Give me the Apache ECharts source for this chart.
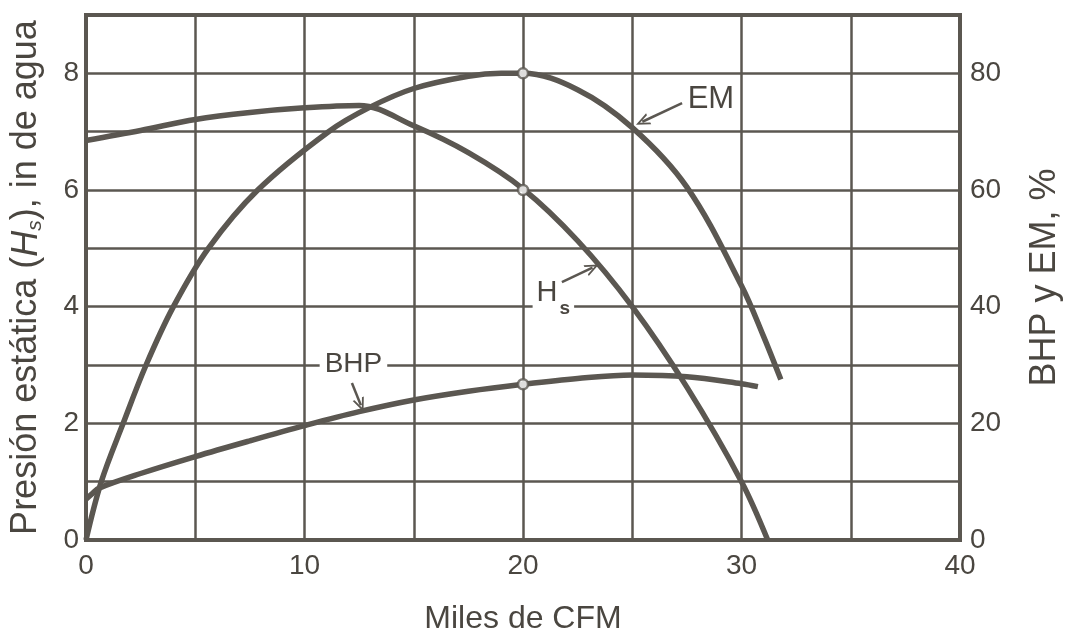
<!DOCTYPE html>
<html><head><meta charset="utf-8">
<script src="https://cdn.jsdelivr.net/npm/echarts@6/dist/echarts.min.js"></script>
<style>html,body{margin:0;padding:0;background:#fff}#c{width:1067px;height:633px}</style>
</head><body><div id="c"></div>
<script>
// ---- data ----
const emX  = [0,0.7,1.7,2.75,4,5.6,7.86,11.1,13,15,17.5,19,20,22.5,25,27.5,30,31,31.8];
const emY  = [0,10,20,30,40,50,60,70,74.2,77.4,79.5,80,80,77.2,70.7,60.5,43.6,35,27.5];
const hsX  = [0,2.5,5,7.5,10,12.5,15,17.5,20,22.5,25,27.5,30,31.2];
const hsY  = [6.85,7.02,7.21,7.33,7.41,7.45,7.1,6.64,6.02,5.13,4.0,2.62,1.0,0];
const bhpX = [0,0.3,0.6,2.5,5,7.5,10,12.5,15,17.5,20,22.5,25,27.5,30,30.75];
const bhpY = [7.0,8.0,8.9,11.4,14.3,17.0,19.6,22.0,24.0,25.5,26.7,27.7,28.3,28.0,26.8,26.3];
const markX = 20, markEM = 80, markHs = 6.0, markBHP = 26.7;
const xTickLabels = [0,10,20,30,40];
const leftTickLabels = [0,2,4,6,8];
const rightTickLabels = [0,20,40,60,80];

// ---- annotation anchors (data units) ----
const annot = {
  em:  {text:[28.6, 75.5],  from:[27.28, 74.9], to:[25.46, 71.7]},
  hs:  {text:[21.39, 4.235], from:[21.78, 4.42], to:[23.18, 4.67]},
  bhp: {text:[12.24, 30.1],  from:[12.17, 26.9], to:[12.58, 23.1]}
};

const INK = '#5b5751';
const TXT = '#4a4640';
const FONT = '"Liberation Sans", Arial, Helvetica, sans-serif';
const chevron = 'path://M0,14 L6,0 L12,14 L10,14 L6,4.5 L2,14 Z';
const zip = (xs, ys) => xs.map((x, i) => [x, ys[i]]);

function arrow(a){
  return {
    silent: true, z: 10, symbol: ['none', chevron], symbolSize: [12, 14],
    lineStyle: {color: INK, width: 2.5, type: 'solid'},
    label: {show: false}, emphasis: {disabled: true},
    data: [[{coord: a.from}, {coord: a.to}]]
  };
}
function textMark(a, label){
  return {
    silent: true, z: 6, symbol: 'circle', symbolSize: 1,
    itemStyle: {color: 'rgba(0,0,0,0)'},
    label: Object.assign({show: true, position: 'inside', color: TXT, fontFamily: FONT,
      backgroundColor: '#fff'}, label),
    data: [{coord: a.text}]
  };
}

const chart = echarts.init(document.getElementById('c'), null, {renderer: 'canvas'});
chart.setOption({
  animation: false,
  backgroundColor: '#fff',
  textStyle: {fontFamily: FONT},
  grid: {left: 86, right: 107, top: 15, bottom: 93, show: true, borderColor: INK, borderWidth: 4,
         containLabel: false, outerBoundsMode: 'none'},
  xAxis: {
    type: 'value', min: 0, max: 40, interval: 5,
    name: 'Miles de CFM', nameLocation: 'middle', nameGap: 63,
    nameTextStyle: {fontSize: 32, color: TXT, fontFamily: FONT},
    axisLine: {show: false}, axisTick: {show: false},
    axisLabel: {fontSize: 28, color: TXT, margin: 12, fontFamily: FONT, showMinLabel: true, showMaxLabel: true,
      formatter: v => xTickLabels.includes(v) ? String(v) : ''},
    splitLine: {show: true, lineStyle: {color: INK, width: 2.5}}
  },
  yAxis: [{
    type: 'value', min: 0, max: 9, interval: 1, position: 'left',
    name: 'Presión estática ({i|H}{sub|s}), in de agua', nameLocation: 'middle', nameGap: 40,
    nameTextStyle: {fontSize: 36, color: TXT, fontFamily: FONT,
      rich: {i: {fontSize: 36, fontStyle: 'italic', color: TXT, fontFamily: FONT},
             sub: {fontSize: 21, fontStyle: 'italic', color: TXT, fontFamily: FONT, padding: [18, 0, 0, 0]}}},
    axisLine: {show: false}, axisTick: {show: false},
    axisLabel: {fontSize: 28, color: TXT, margin: 7, fontFamily: FONT,
      formatter: v => leftTickLabels.includes(v) ? String(v) : ''},
    splitLine: {show: true, lineStyle: {color: INK, width: 2.5}}
  }, {
    type: 'value', min: 0, max: 90, interval: 10, position: 'right',
    name: 'BHP y EM, %', nameLocation: 'middle', nameGap: 67,
    nameTextStyle: {fontSize: 36, color: TXT, fontFamily: FONT},
    axisLine: {show: false}, axisTick: {show: false},
    axisLabel: {fontSize: 28, color: TXT, margin: 10, fontFamily: FONT,
      formatter: v => rightTickLabels.includes(v) ? String(v) : ''},
    splitLine: {show: false}
  }],
  series: [
    {name: 'EM', type: 'line', yAxisIndex: 1, data: zip(emX, emY), smooth: 0.35,
     showSymbol: false, lineStyle: {color: INK, width: 5.5}, z: 3,
     markLine: arrow(annot.em),
     markPoint: textMark(annot.em, {formatter: 'EM', fontSize: 31, padding: [0, 2]})},
    {name: 'Hs', type: 'line', yAxisIndex: 0, data: zip(hsX, hsY), smooth: 0.35,
     showSymbol: false, lineStyle: {color: INK, width: 5.5}, z: 3,
     markLine: arrow(annot.hs),
     markPoint: textMark(annot.hs, {formatter: '{h|H}{s|s}', padding: [0, 4],
       rich: {h: {fontSize: 29, color: TXT, fontFamily: FONT},
              s: {fontSize: 19, fontWeight: 'bold', color: TXT, fontFamily: FONT, padding: [32, 0, 0, 2]}}})},
    {name: 'BHP', type: 'line', yAxisIndex: 1, data: zip(bhpX, bhpY), smooth: 0.35,
     showSymbol: false, lineStyle: {color: INK, width: 5.5}, z: 3,
     markLine: arrow(annot.bhp),
     markPoint: textMark(annot.bhp, {formatter: 'BHP', fontSize: 28, padding: [0, 5]})},
    {name: 'markHs', type: 'scatter', yAxisIndex: 0, data: [[markX, markHs]], symbol: 'circle', symbolSize: 10, z: 8,
     itemStyle: {color: '#fff', borderColor: INK, borderWidth: 2.5}},
    {name: 'markPct', type: 'scatter', yAxisIndex: 1, data: [[markX, markEM], [markX, markBHP]], symbol: 'circle', symbolSize: 10, z: 8,
     itemStyle: {color: '#fff', borderColor: INK, borderWidth: 2.5}}
  ]
});
</script>
</body></html>
